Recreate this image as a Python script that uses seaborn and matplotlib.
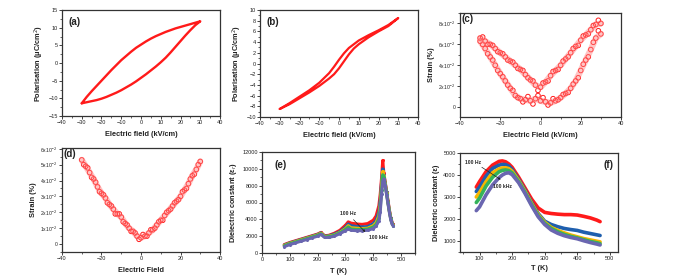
import matplotlib
matplotlib.use("Agg")
import matplotlib.pyplot as plt
from matplotlib.ticker import AutoMinorLocator, MultipleLocator, FixedLocator, FixedFormatter
import pandas as pd
import seaborn as sns

# ---------------- data ----------------
# (a) P-E loop
E_a = [-30, -27.5, -25, -22.5, -20, -17.5, -15, -12.5, -10, -7.5, -5, -2.5, 0,
       2.5, 5, 7.5, 10, 12.5, 15, 17.5, 20, 22.5, 25, 27.5, 30]
P_a_upper = [-11.4, -9.6, -8.0, -6.5, -5.0, -3.5, -2.0, -0.6, 0.8, 2.0, 3.2, 4.3, 5.2,
             6.1, 6.9, 7.6, 8.2, 8.8, 9.3, 9.8, 10.2, 10.6, 11.0, 11.4, 11.8]
P_a_lower = [-11.4, -11.1, -10.8, -10.5, -10.1, -9.6, -9.0, -8.4, -7.7, -6.9, -6.1, -5.2, -4.2,
             -3.2, -2.1, -1.0, 0.2, 1.5, 3.0, 4.6, 6.2, 7.8, 9.3, 10.7, 11.8]

# (b) P-E loop
E_b = [-30, -25, -20, -15, -10, -7.5, -5, -2.5, 0, 2.5, 5, 7.5, 10, 15, 20, 25, 30]
P_b_upper = [-8.5, -7.4, -6.2, -5.0, -3.6, -2.7, -1.8, -0.6, 0.7, 1.9, 2.9, 3.6, 4.3, 5.3, 6.2, 7.2, 8.5]
P_b_lower = [-8.5, -7.6, -6.5, -5.4, -4.2, -3.5, -2.8, -2.0, -0.9, 0.4, 1.7, 2.8, 3.6, 4.9, 6.0, 7.0, 8.5]

# (c) S-E butterfly (units of 1e-2 %)
E_c1 = [-30, -27.5, -25, -22.5, -20, -17.5, -15, -12.5, -10, -7.5, -5, -2.5, 0,
        2.5, 5, 7.5, 10, 12.5, 15, 17.5, 20, 22.5, 25, 27.5, 30]
S_c_inner1 = [6.6, 6.3, 6.0, 5.6, 5.2, 4.8, 4.4, 4.0, 3.6, 3.1, 2.6, 2.1, 1.9,
              2.4, 3.0, 3.5, 4.0, 4.6, 5.2, 5.8, 6.4, 6.9, 7.4, 7.9, 8.0]
S_c_outer1 = [6.3, 5.6, 4.8, 4.0, 3.2, 2.5, 1.8, 1.1, 0.8, 0.7, 0.6, 0.8, 0.6,
              0.5, 0.4, 0.6, 0.9, 1.3, 1.8, 2.5, 3.5, 4.5, 5.5, 6.6, 7.0]
E_c2 = [-28.75, -26.25, -23.75, -21.25, -18.75, -16.25, -13.75, -11.25, -8.75, -6.25, -3.75, -1.25,
        1.25, 3.75, 6.25, 8.75, 11.25, 13.75, 16.25, 18.75, 21.25, 23.75, 26.25, 28.75]
S_c_inner2 = [6.7, 6.0, 5.9, 5.3, 5.1, 4.5, 4.3, 3.7, 3.5, 2.8, 2.5, 1.6,
              2.3, 2.5, 3.4, 3.6, 4.4, 4.8, 5.6, 5.9, 6.8, 7.0, 7.8, 8.3]
S_c_outer2 = [6.0, 5.1, 4.5, 3.5, 2.9, 2.1, 1.6, 0.9, 0.5, 1.0, 0.3, 1.1,
              0.9, 0.2, 0.8, 0.7, 1.2, 1.4, 2.2, 2.8, 4.1, 4.8, 6.2, 7.3]

# (d) S-E curve (units of 1e-2 %)
E_d1 = [-30, -28, -26, -24, -22, -20, -18, -16, -14, -12, -10, -8, -6, -4, -2, 0,
        2, 4, 6, 8, 10, 12, 14, 16, 18, 20, 22, 24, 26, 28, 30]
S_d1 = [5.3, 4.9, 4.5, 4.1, 3.6, 3.2, 2.9, 2.5, 2.2, 1.9, 1.7, 1.3, 1.0, 0.8, 0.5, 0.4,
        0.5, 0.7, 0.9, 1.2, 1.5, 1.8, 2.1, 2.4, 2.7, 3.0, 3.4, 3.8, 4.3, 4.7, 5.2]
E_d2 = [-29, -27, -25, -23, -21, -19, -17, -15, -13, -11, -9, -7, -5, -3, -1,
        1, 3, 5, 7, 9, 11, 13, 15, 17, 19, 21, 23, 25, 27, 29]
S_d2 = [5.0, 4.8, 4.2, 3.9, 3.3, 3.1, 2.6, 2.4, 1.9, 1.9, 1.4, 1.2, 0.8, 0.7, 0.3,
        0.6, 0.5, 0.9, 1.0, 1.4, 1.5, 2.0, 2.2, 2.6, 2.8, 3.3, 3.5, 4.1, 4.4, 5.0]

# (e) dielectric constant vs T, 100 Hz ... 100 kHz
T_e = [80, 100, 120, 140, 160, 180, 200, 212, 225, 240, 260, 280, 300, 310, 320, 340,
       360, 380, 400, 410, 420, 425, 430, 434, 438, 443, 448, 453, 458, 463, 468, 472]
eps_e_f1 = [1000, 1250, 1450, 1650, 1850, 2050, 2250, 2450, 2050, 2100, 2350, 2700, 3300, 3700, 3550, 3450,
            3400, 3500, 3900, 4400, 5600, 7000, 9000, 11000, 9500, 8400, 7300, 6200, 5100, 4200, 3600, 3400]
eps_e_f2 = [950, 1200, 1400, 1600, 1800, 2000, 2200, 2400, 2000, 2050, 2250, 2550, 3050, 3450, 3250, 3150,
            3100, 3150, 3500, 3900, 4900, 6300, 8500, 10000, 9300, 8300, 7200, 6100, 5000, 4100, 3550, 3350]
eps_e_f3 = [900, 1150, 1350, 1550, 1750, 1950, 2150, 2350, 1950, 2000, 2150, 2450, 2900, 3250, 3000, 2950,
            2900, 2950, 3250, 3600, 4400, 5700, 8000, 9700, 9200, 8200, 7100, 6000, 4950, 4050, 3500, 3300]
eps_e_f4 = [850, 1100, 1300, 1500, 1700, 1900, 2100, 2300, 1900, 1950, 2100, 2400, 2800, 3100, 2850, 2800,
            2800, 2850, 3100, 3400, 4100, 5300, 7500, 9300, 9000, 8100, 7000, 5900, 4900, 4000, 3450, 3250]
eps_e_f5 = [750, 1000, 1200, 1400, 1600, 1800, 2000, 2200, 1850, 1850, 2000, 2300, 2650, 2850, 2700, 2650,
            2650, 2700, 2900, 3200, 3800, 4900, 7000, 8500, 8800, 8000, 6900, 5800, 4800, 3900, 3400, 3200]

# (f) dielectric constant vs T
T_f = [90, 100, 120, 140, 160, 170, 180, 190, 200, 220, 240, 260, 280, 300, 320, 340,
       360, 380, 400, 420, 440, 460, 470]
eps_f_f1 = [3450, 3700, 4150, 4450, 4620, 4640, 4600, 4500, 4350, 3900, 3400, 2900, 2500, 2300, 2250, 2220,
            2200, 2200, 2180, 2120, 2050, 1950, 1880]
eps_f_f2 = [3250, 3450, 3950, 4300, 4450, 4480, 4470, 4400, 4250, 3800, 3300, 2750, 2250, 1900, 1750, 1650,
            1570, 1520, 1480, 1400, 1340, 1280, 1250]
eps_f_f3 = [3000, 3200, 3700, 4100, 4280, 4320, 4330, 4290, 4170, 3750, 3250, 2700, 2200, 1850, 1620, 1480,
            1370, 1270, 1190, 1110, 1050, 990, 960]
eps_f_f4 = [2750, 2950, 3500, 3900, 4150, 4210, 4230, 4200, 4100, 3700, 3200, 2650, 2150, 1800, 1570, 1420,
            1300, 1210, 1140, 1060, 980, 920, 880]
eps_f_f5 = [2380, 2550, 3100, 3550, 3880, 4000, 4080, 4100, 4020, 3650, 3150, 2600, 2100, 1750, 1500, 1350,
            1240, 1160, 1100, 1010, 930, 860, 820]

freq_labels = ["100 Hz", "1 kHz", "10 kHz", "50 kHz", "100 kHz"]
colors = ["#ff1a1a", "#1f5fae", "#f7b500", "#35b35a", "#6a66b0"]

# ---------------- style ----------------
sns.set_theme(style="ticks")
plt.rcParams["font.family"] = ["Liberation Sans", "DejaVu Sans"]
plt.rcParams["mathtext.fontset"] = "dejavusans"
plt.rcParams["axes.linewidth"] = 0.8
plt.rcParams["axes.edgecolor"] = "#333333"

fig = plt.figure(figsize=(6.75, 2.77), dpi=100)


def add_ax(l, r, t, b):
    return fig.add_axes([l / 675, 1 - b / 277, (r - l) / 675, (b - t) / 277])


def style(ax, xlabel, ylabel, xlpad=3, ylpad=2):
    ax.tick_params(which="major", direction="out", length=2, width=0.6,
                   labelsize=4, pad=1, colors="#222222")
    ax.tick_params(which="minor", direction="out", length=1.2, width=0.5)
    ax.xaxis.set_minor_locator(AutoMinorLocator(2))
    ax.yaxis.set_minor_locator(AutoMinorLocator(2))
    ax.set_xlabel(xlabel, fontsize=5.3, fontweight="bold", labelpad=xlpad, color="#222222")
    ax.set_ylabel(ylabel, fontsize=5.3, fontweight="bold", labelpad=ylpad, color="#222222")
    for s in ax.spines.values():
        s.set_visible(True)
        s.set_linewidth(0.9)


def panel_label(ax, text, x=0.04, y=0.93, ha="left"):
    ax.text(x, y, text, transform=ax.transAxes, fontsize=7, fontweight="bold",
            ha=ha, va="top", color="#222222")


def loop_frame(E, up, low):
    return pd.DataFrame({"E": list(E) + list(E[::-1]),
                         "P": list(up) + list(low[::-1])})


red = "#ff1a1a"
band = "#ff8080"

# (a)
ax = add_ax(62, 220, 10, 116)
sns.lineplot(data=loop_frame(E_a, P_a_upper, P_a_lower), x="E", y="P", sort=False,
             estimator=None, color=red, linewidth=1.7, ax=ax)
ax.set_xlim(-40, 40)
ax.set_ylim(-15, 15)
ax.xaxis.set_major_locator(MultipleLocator(10))
ax.yaxis.set_major_locator(MultipleLocator(5))
style(ax, "Electric field (kV/cm)", "Polarisation (μC/cm$^2$)", xlpad=4)
panel_label(ax, "(a)")

# (b)
ax = add_ax(260, 418, 10, 117)
sns.lineplot(data=loop_frame(E_b, P_b_upper, P_b_lower), x="E", y="P", sort=False,
             estimator=None, color=red, linewidth=1.6, ax=ax)
ax.set_xlim(-40, 40)
ax.set_ylim(-10, 10)
ax.xaxis.set_major_locator(MultipleLocator(10))
ax.yaxis.set_major_locator(MultipleLocator(2))
style(ax, "Electric field (kV/cm)", "Polarisation (μC/cm$^2$)", xlpad=4)
panel_label(ax, "(b)")

# (c)
ax = add_ax(460, 621, 13, 117)
sns.lineplot(x=E_c1, y=S_c_inner1, color=band, alpha=0.45, linewidth=4.5, sort=False,
             estimator=None, ax=ax)
sns.lineplot(x=E_c1, y=S_c_outer1, color=band, alpha=0.45, linewidth=4.5, sort=False,
             estimator=None, ax=ax)
df_c = pd.DataFrame({"E": E_c1 + E_c1 + E_c2 + E_c2,
                     "S": S_c_inner1 + S_c_outer1 + S_c_inner2 + S_c_outer2})
sns.scatterplot(data=df_c, x="E", y="S", marker="o", s=11, facecolor="none",
                edgecolor=red, linewidth=0.7, ax=ax)
ax.set_xlim(-40, 40)
ax.set_ylim(-0.95, 9.0)
ax.xaxis.set_major_locator(MultipleLocator(20))
ax.yaxis.set_major_locator(FixedLocator([0, 2, 4, 6, 8]))
ax.yaxis.set_major_formatter(FixedFormatter(["0"] + [f"{v}x10$^{{-2}}$" for v in (2, 4, 6, 8)]))
style(ax, "Electric Field (kV/cm)", "Strain (%)", xlpad=4)
ax.tick_params(axis="y", labelsize=3.6)
panel_label(ax, "(c)", x=0.01, y=0.99)

# (d)
ax = add_ax(62, 220, 148, 252)
sns.lineplot(x=E_d1, y=S_d1, color=band, alpha=0.45, linewidth=4.5, sort=False,
             estimator=None, ax=ax)
df_d = pd.DataFrame({"E": E_d1 + E_d2, "S": S_d1 + S_d2})
sns.scatterplot(data=df_d, x="E", y="S", marker="o", s=11, facecolor="none",
                edgecolor=red, linewidth=0.7, ax=ax)
ax.set_xlim(-40, 40)
ax.set_ylim(-0.5, 6.05)
ax.xaxis.set_major_locator(MultipleLocator(20))
ax.yaxis.set_major_locator(FixedLocator([0, 1, 2, 3, 4, 5, 6]))
ax.yaxis.set_major_formatter(FixedFormatter(["0"] + [f"{v}x10$^{{-2}}$" for v in range(1, 7)]))
style(ax, "Electric Field", "Strain (%)", xlpad=4)
ax.tick_params(axis="y", labelsize=3.6)
panel_label(ax, "(d)", x=0.01, y=0.99)

# (e)
ax = add_ax(262, 415, 152, 253)
series_e = [eps_e_f1, eps_e_f2, eps_e_f3, eps_e_f4, eps_e_f5]
df_e = pd.concat([pd.DataFrame({"T": T_e, "eps": v, "f": lab})
                  for v, lab in zip(series_e, freq_labels)])
sns.lineplot(data=df_e, x="T", y="eps", hue="f", palette=colors, sort=False,
             estimator=None, linewidth=2.2, marker="o", markersize=2.2,
             markeredgewidth=0, legend=False, ax=ax)
ax.set_xlim(0, 550)
ax.set_ylim(0, 12000)
ax.xaxis.set_major_locator(MultipleLocator(100))
ax.yaxis.set_major_locator(MultipleLocator(2000))
style(ax, "T (K)", "Dielectric constant (ε$_r$)", xlpad=4)
panel_label(ax, "(e)", x=0.08, y=0.92)
ax.text(282, 4700, "100 Hz", fontsize=3.6, fontweight="bold", ha="left", va="center")
ax.text(384, 1800, "100 kHz", fontsize=3.6, fontweight="bold", ha="left", va="center")
ax.annotate("", xy=(378, 2250), xytext=(322, 4200),
            arrowprops=dict(arrowstyle="-|>", color="#222222", lw=0.5,
                            mutation_scale=3))

# (f)
ax = add_ax(460, 618, 153, 252)
series_f = [eps_f_f1, eps_f_f2, eps_f_f3, eps_f_f4, eps_f_f5]
df_f = pd.concat([pd.DataFrame({"T": T_f, "eps": v, "f": lab})
                  for v, lab in zip(series_f, freq_labels)])
sns.lineplot(data=df_f, x="T", y="eps", hue="f", palette=colors, sort=False,
             estimator=None, linewidth=2.6, legend=False, ax=ax)
ax.set_xlim(40, 525)
ax.set_ylim(500, 5000)
ax.xaxis.set_major_locator(MultipleLocator(100))
ax.yaxis.set_major_locator(MultipleLocator(1000))
style(ax, "T (K)", "Dielectric constant (ε)", xlpad=3)
panel_label(ax, "(f)", x=0.97, y=0.93, ha="right")
ax.text(55, 4560, "100 Hz", fontsize=3.6, fontweight="bold", ha="left", va="center")
ax.text(140, 3480, "100 kHz", fontsize=3.6, fontweight="bold", ha="left", va="center")
ax.annotate("", xy=(172, 3720), xytext=(100, 4420),
            arrowprops=dict(arrowstyle="-|>", color="#222222", lw=0.5,
                            mutation_scale=3))

fig.savefig("out.png", dpi=100)
